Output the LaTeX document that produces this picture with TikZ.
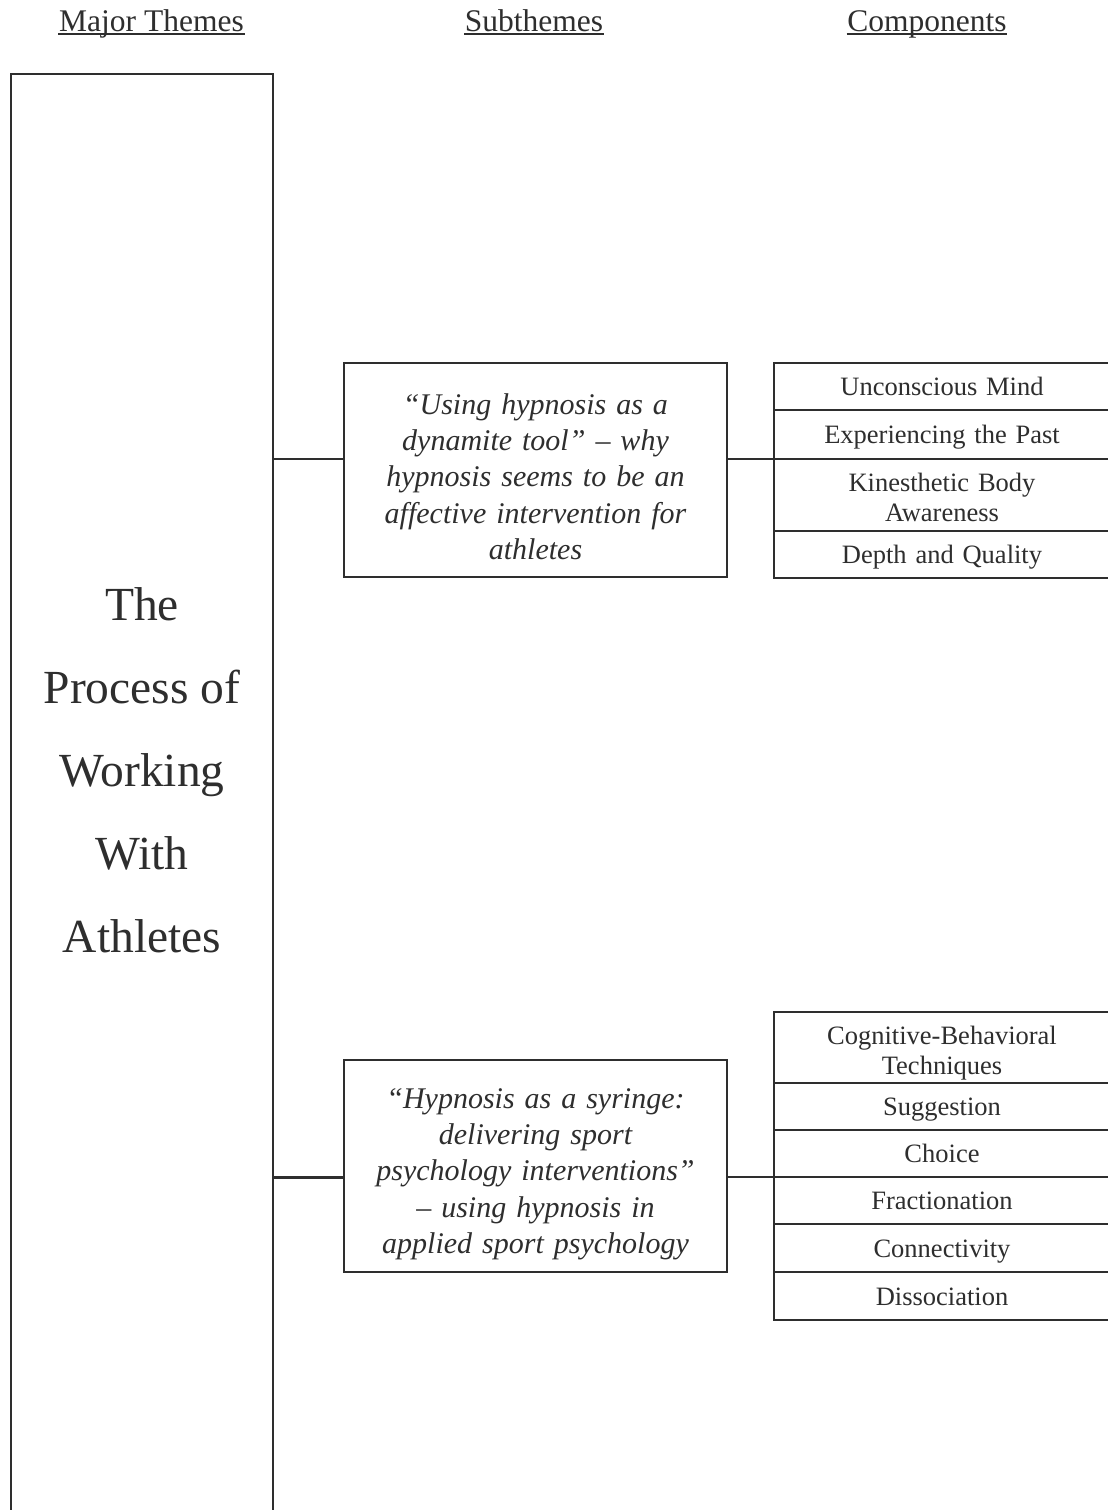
\documentclass[tikz,border=0pt]{standalone}
\usepackage{fontspec}
\setmainfont{Liberation Serif}
\definecolor{ink}{gray}{0.18}
\begin{document}
\begin{tikzpicture}[x=1pt,y=-1pt,line width=1.5pt,draw=ink,
  hdr/.style={inner sep=0pt,font=\fontsize{31.5}{36}\selectfont,text=ink},
  subbox/.style={draw,minimum width=383pt,minimum height=214pt,inner sep=0pt,outer sep=0pt},
  subtext/.style={text width=372pt,align=center,inner sep=0pt,font=\fontsize{30}{36.3}\selectfont\itshape,text=ink},
  comp/.style={draw,minimum width=336pt,text width=320pt,align=center,inner sep=0pt,outer sep=0pt,font=\fontsize{26.5}{30}\selectfont,text=ink,anchor=north},
  oneline/.style={text height=22pt,text depth=4pt},
  twoline/.style={text height=22pt,text depth=29pt},
  uline/.style={line width=1.2pt}]
\useasboundingbox (0,0) rectangle (1108,1510);
\clip (0,0) rectangle (1108,1510);
\fill[white] (0,0) rectangle (1108,1510);
% headers
\node[hdr,anchor=base] (h1) at (151.5,31) {Major Themes};
\node[hdr,anchor=base] (h2) at (534,31) {Subthemes};
\node[hdr,anchor=base] (h3) at (927,31) {Components};
\draw[uline] ([yshift=-3pt]h1.base west) -- ([yshift=-3pt]h1.base east);
\draw[uline] ([yshift=-3pt]h2.base west) -- ([yshift=-3pt]h2.base east);
\draw[uline] ([yshift=-3pt]h3.base west) -- ([yshift=-3pt]h3.base east);
% major theme
\node[draw,minimum width=262pt,minimum height=1480pt,anchor=north,inner sep=0pt,outer sep=0pt] (major) at (142,74) {};
\node[font=\fontsize{47.5}{83}\selectfont,align=center,text=ink] (mt) at (142,770) {The\\Process of\\Working\\With\\Athletes};
% subthemes
\node[subbox] (s1) at (535.5,470) {};
\node[subtext] (s1t) at (535.5,476.5) {“Using hypnosis as a\\dynamite tool” – why\\hypnosis seems to be an\\affective intervention for\\athletes};
\node[subbox,minimum height=212pt] (s2) at (535.5,1166) {};
\node[subtext] (s2t) at (535.5,1174) {“Hypnosis as a syringe:\\delivering sport\\psychology interventions”\\– using hypnosis in\\applied sport psychology};
% components 1
\node[comp,oneline,minimum height=47pt] (c11) at (942,363) {Unconscious Mind};
\node[comp,oneline,minimum height=49pt] (c12) at (c11.south) {Experiencing the Past};
\node[comp,twoline,minimum height=72pt] (c13) at (c12.south) {Kinesthetic Body\\Awareness};
\node[comp,oneline,minimum height=47pt] (c14) at (c13.south) {Depth and Quality};
% components 2
\node[comp,twoline,minimum height=71pt] (c21) at (942,1012) {Cognitive-Behavioral\\Techniques};
\node[comp,oneline,minimum height=47pt] (c22) at (c21.south) {Suggestion};
\node[comp,oneline,minimum height=47pt] (c23) at (c22.south) {Choice};
\node[comp,oneline,minimum height=47pt] (c24) at (c23.south) {Fractionation};
\node[comp,oneline,minimum height=48pt] (c25) at (c24.south) {Connectivity};
\node[comp,oneline,minimum height=48pt] (c26) at (c25.south) {Dissociation};
% connectors
\draw (major.east |- c13.north west) -- (s1.west |- c13.north west);
\draw (s1.east |- c13.north west) -- (c13.north west);
\draw[line width=3pt] (major.east |- c24.north west) -- (s2.west |- c24.north west);
\draw (s2.east |- c24.north west) -- (c24.north west);
\end{tikzpicture}
\end{document}
